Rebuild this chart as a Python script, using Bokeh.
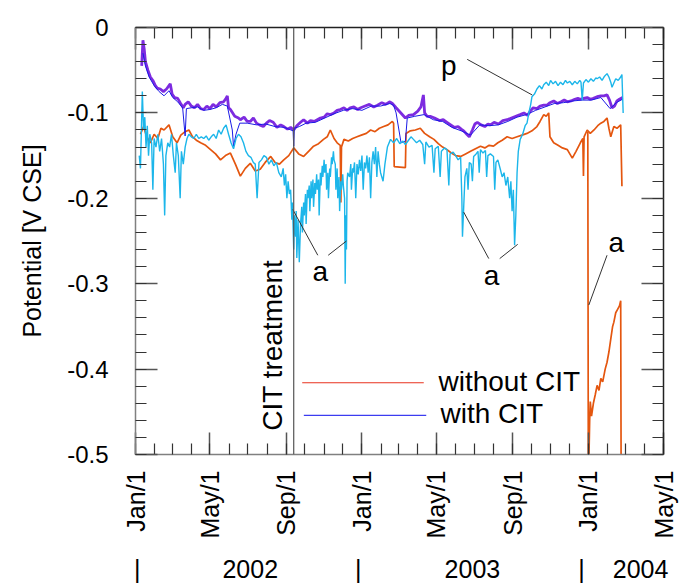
import math
import pandas as pd
from bokeh.plotting import figure
from bokeh.models import Range1d, LinearAxis, FixedTicker, Span
from bokeh.core.properties import value
from bokeh.embed import file_html
from bokeh.resources import INLINE

# ---------------- data: (days since 2002-01-01, potential in V CSE) ----------------
START = pd.Timestamp("2002-01-01")
END = pd.Timestamp("2004-05-01")
CIT_DATE = pd.Timestamp("2002-09-13")

with_cit_pts = [
    (10, -0.045), (12, -0.015), (14, -0.025), (16, -0.040), (20, -0.050), (24, -0.058), (28, -0.062), (32, -0.068),
    (35, -0.071), (40, -0.072), (45, -0.075), (50, -0.072), (54, -0.068), (56, -0.066), (59, -0.078), (63, -0.082),
    (68, -0.083), (72, -0.088), (77, -0.094), (80, -0.090), (85, -0.087), (90, -0.092), (95, -0.094), (100, -0.090),
    (105, -0.095), (110, -0.096), (115, -0.092), (120, -0.095), (125, -0.090), (130, -0.093), (136, -0.088),
    (142, -0.087), (146, -0.083), (148, -0.080), (150, -0.094), (153, -0.096), (160, -0.104), (166, -0.106),
    (169, -0.108), (175, -0.105), (180, -0.110), (185, -0.110), (190, -0.106), (195, -0.112), (200, -0.114),
    (206, -0.116), (211, -0.112), (216, -0.109), (222, -0.111), (228, -0.117), (234, -0.114), (239, -0.116),
    (245, -0.119), (250, -0.117), (255, -0.120), (260, -0.115), (266, -0.111), (271, -0.108), (277, -0.112),
    (282, -0.109), (288, -0.110), (293, -0.108), (298, -0.106), (304, -0.105), (309, -0.101), (314, -0.102),
    (320, -0.100), (325, -0.097), (330, -0.096), (336, -0.094), (341, -0.097), (346, -0.094), (352, -0.093),
    (358, -0.096), (363, -0.094), (370, -0.092), (377, -0.090), (384, -0.093), (390, -0.091), (397, -0.088),
    (403, -0.090), (410, -0.087), (414, -0.089), (420, -0.094), (435, -0.106), (440, -0.103), (448, -0.102),
    (455, -0.098), (460, -0.093), (464, -0.079), (466, -0.100), (470, -0.104), (475, -0.104), (482, -0.106),
    (490, -0.109), (496, -0.108), (502, -0.111), (508, -0.114), (514, -0.117), (520, -0.116), (525, -0.119),
    (529, -0.121), (534, -0.125), (538, -0.128), (543, -0.120), (547, -0.113), (551, -0.111), (557, -0.114),
    (563, -0.116), (568, -0.113), (572, -0.114), (578, -0.111), (585, -0.113), (592, -0.109), (599, -0.108),
    (606, -0.106), (613, -0.104), (620, -0.102), (626, -0.100), (632, -0.103), (636, -0.098), (641, -0.094),
    (647, -0.095), (652, -0.092), (658, -0.091), (663, -0.091), (668, -0.088), (674, -0.086), (680, -0.089),
    (686, -0.087), (691, -0.085), (696, -0.087), (702, -0.086), (708, -0.084), (713, -0.083), (717, -0.084),
    (722, -0.083), (728, -0.082), (733, -0.084), (738, -0.083), (744, -0.081), (750, -0.080), (755, -0.080),
    (760, -0.079), (764, -0.085), (768, -0.094), (772, -0.092), (776, -0.086), (780, -0.084), (785, -0.082),
]

with_cit2_pts = [
    (12, -0.030), (16, -0.045), (22, -0.058), (30, -0.068), (38, -0.075), (46, -0.080), (54, -0.074), (60, -0.082),
    (68, -0.087), (76, -0.094), (80, -0.127), (82, -0.095), (90, -0.094), (100, -0.093), (110, -0.097),
    (120, -0.096), (130, -0.094), (140, -0.090), (148, -0.092), (156, -0.120), (158, -0.139), (162, -0.125),
    (168, -0.112), (180, -0.112), (195, -0.114), (210, -0.113), (225, -0.116), (240, -0.117), (254, -0.121),
    (255, -0.139), (256, -0.118), (264, -0.116), (275, -0.112), (290, -0.111), (305, -0.106), (320, -0.101),
    (335, -0.097), (350, -0.095), (365, -0.097), (380, -0.092), (395, -0.092), (410, -0.089), (416, -0.091),
    (420, -0.100), (428, -0.135), (435, -0.133), (438, -0.106), (450, -0.104), (465, -0.102), (480, -0.108),
    (495, -0.110), (510, -0.117), (525, -0.121), (540, -0.126), (555, -0.114), (570, -0.115), (585, -0.114),
    (600, -0.110), (615, -0.105), (630, -0.102), (645, -0.097), (660, -0.093), (675, -0.089), (690, -0.088),
    (705, -0.086), (720, -0.085), (735, -0.085), (750, -0.082), (765, -0.095), (775, -0.088), (785, -0.084),
]

without_cit_pts = [
    (8, -0.125), (13, -0.116), (18, -0.128), (24, -0.135), (30, -0.125), (36, -0.130), (41, -0.118), (46, -0.120),
    (54, -0.114), (60, -0.128), (67, -0.135), (73, -0.126), (80, -0.122), (86, -0.120), (92, -0.128), (98, -0.132),
    (105, -0.135), (113, -0.138), (121, -0.143), (129, -0.148), (137, -0.155), (145, -0.150), (153, -0.147),
    (161, -0.160), (169, -0.174), (177, -0.165), (185, -0.159), (193, -0.168), (201, -0.166), (209, -0.158),
    (218, -0.151), (225, -0.158), (232, -0.160), (239, -0.155), (247, -0.150), (255, -0.141), (263, -0.148),
    (271, -0.151), (279, -0.145), (287, -0.139), (295, -0.136), (303, -0.131), (309, -0.128), (314, -0.120),
    (320, -0.130), (325, -0.135), (330, -0.138), (331, -0.205), (332, -0.140), (336, -0.131), (343, -0.133),
    (350, -0.130), (357, -0.128), (364, -0.126), (372, -0.124), (379, -0.120), (386, -0.122), (393, -0.118),
    (400, -0.116), (407, -0.114), (414, -0.110), (416, -0.112), (417, -0.163), (435, -0.164), (436, -0.124),
    (443, -0.121), (451, -0.120), (459, -0.118), (466, -0.124), (474, -0.128), (481, -0.131), (488, -0.136),
    (495, -0.140), (502, -0.143), (509, -0.147), (516, -0.150), (524, -0.151), (532, -0.148), (540, -0.145),
    (548, -0.142), (556, -0.139), (563, -0.141), (570, -0.138), (577, -0.139), (584, -0.135), (591, -0.132),
    (599, -0.128), (607, -0.130), (615, -0.128), (623, -0.126), (631, -0.124), (639, -0.121), (647, -0.116),
    (652, -0.110), (658, -0.102), (662, -0.104), (666, -0.100), (668, -0.128), (674, -0.135), (681, -0.138),
    (688, -0.141), (696, -0.143), (700, -0.148), (704, -0.153), (710, -0.145), (717, -0.135), (721, -0.130),
    (722, -0.174), (723, -0.128), (728, -0.120), (733, -0.124), (739, -0.120), (745, -0.115), (750, -0.112),
    (755, -0.110), (760, -0.106), (763, -0.118), (766, -0.128), (771, -0.116), (776, -0.118), (782, -0.114),
    (784, -0.186),
]

without_cit2_pts = [
    (729, -0.122), (730, -0.600), (731, -0.497), (732, -0.460), (733, -0.438), (735, -0.455), (738, -0.440),
    (741, -0.430), (744, -0.419), (747, -0.425), (750, -0.411), (753, -0.415), (757, -0.400), (760, -0.392),
    (763, -0.380), (766, -0.365), (769, -0.350), (771, -0.345), (774, -0.334), (777, -0.330), (780, -0.326),
    (782, -0.320), (783, -0.600),
]

without_cit3_pts = [
    (6, -0.150), (8, -0.165), (11, -0.075), (13, -0.120), (15, -0.105), (17, -0.140), (19, -0.115), (21, -0.150),
    (23, -0.125), (26, -0.135), (28, -0.190), (30, -0.130), (33, -0.140), (36, -0.125), (39, -0.145), (42, -0.130),
    (45, -0.160), (47, -0.220), (49, -0.150), (52, -0.135), (55, -0.140), (58, -0.125), (61, -0.150), (64, -0.170),
    (66, -0.135), (69, -0.150), (72, -0.200), (74, -0.145), (77, -0.160), (80, -0.140), (83, -0.130), (86, -0.125),
    (90, -0.128), (94, -0.130), (98, -0.125), (102, -0.130), (106, -0.128), (110, -0.130), (114, -0.127),
    (118, -0.132), (122, -0.128), (126, -0.125), (130, -0.130), (134, -0.120), (138, -0.125), (142, -0.118),
    (146, -0.114), (150, -0.125), (154, -0.135), (158, -0.142), (162, -0.130), (166, -0.125), (170, -0.128),
    (174, -0.135), (178, -0.145), (182, -0.150), (186, -0.152), (190, -0.158), (193, -0.160), (196, -0.200),
    (199, -0.158), (203, -0.155), (207, -0.150), (211, -0.152), (215, -0.160), (219, -0.155), (223, -0.162),
    (227, -0.158), (231, -0.170), (235, -0.175), (238, -0.165), (240, -0.185), (242, -0.172), (244, -0.200),
    (246, -0.180), (248, -0.195), (250, -0.190), (252, -0.225), (253, -0.205), (255, -0.260), (256, -0.220),
    (258, -0.245), (259, -0.215), (260, -0.270), (262, -0.225), (264, -0.275), (266, -0.230), (268, -0.210),
    (269, -0.240), (271, -0.205), (272, -0.220), (274, -0.195), (275, -0.230), (277, -0.190), (278, -0.200),
    (280, -0.185), (281, -0.215), (283, -0.180), (284, -0.200), (286, -0.178), (287, -0.210), (289, -0.182),
    (290, -0.195), (292, -0.172), (293, -0.190), (295, -0.178), (296, -0.220), (298, -0.170), (299, -0.185),
    (301, -0.162), (302, -0.175), (304, -0.155), (305, -0.170), (307, -0.160), (308, -0.190), (310, -0.170),
    (311, -0.200), (313, -0.165), (314, -0.175), (316, -0.152), (317, -0.160), (319, -0.145), (320, -0.155),
    (322, -0.160), (323, -0.190), (325, -0.165), (326, -0.200), (328, -0.175), (329, -0.215), (331, -0.180),
    (332, -0.190), (334, -0.172), (335, -0.185), (337, -0.200), (338, -0.300), (339, -0.220), (340, -0.260),
    (341, -0.180), (342, -0.170), (345, -0.175), (347, -0.160), (348, -0.190), (350, -0.165), (351, -0.170),
    (353, -0.158), (355, -0.200), (357, -0.160), (359, -0.172), (361, -0.155), (363, -0.168), (365, -0.150),
    (367, -0.190), (369, -0.158), (371, -0.165), (373, -0.150), (375, -0.170), (377, -0.152), (379, -0.200),
    (381, -0.158), (383, -0.145), (385, -0.160), (387, -0.140), (389, -0.175), (391, -0.145), (393, -0.160),
    (395, -0.170), (399, -0.180), (402, -0.160), (406, -0.140), (411, -0.131), (416, -0.135), (421, -0.130),
    (426, -0.136), (431, -0.133), (435, -0.137), (440, -0.132), (444, -0.128), (448, -0.131), (453, -0.135),
    (458, -0.132), (463, -0.137), (466, -0.160), (468, -0.134), (473, -0.140), (478, -0.138), (481, -0.170),
    (483, -0.142), (488, -0.139), (491, -0.175), (493, -0.145), (498, -0.141), (502, -0.143), (505, -0.185),
    (507, -0.148), (512, -0.146), (516, -0.150), (520, -0.155), (524, -0.152), (526, -0.200), (527, -0.245),
    (529, -0.210), (531, -0.175), (534, -0.165), (536, -0.190), (538, -0.158), (541, -0.160), (543, -0.180),
    (545, -0.151), (549, -0.148), (552, -0.145), (554, -0.170), (556, -0.143), (560, -0.147), (564, -0.144),
    (566, -0.175), (568, -0.150), (572, -0.148), (577, -0.151), (579, -0.190), (581, -0.158), (584, -0.155),
    (588, -0.166), (591, -0.175), (594, -0.170), (597, -0.185), (600, -0.175), (603, -0.200), (605, -0.180),
    (607, -0.215), (609, -0.190), (611, -0.255), (613, -0.220), (615, -0.170), (617, -0.145), (620, -0.131),
    (624, -0.125), (628, -0.115), (631, -0.112), (634, -0.100), (637, -0.090), (639, -0.081), (643, -0.078),
    (647, -0.072), (651, -0.068), (655, -0.072), (658, -0.067), (662, -0.064), (666, -0.068), (669, -0.062),
    (673, -0.066), (677, -0.063), (681, -0.068), (685, -0.064), (689, -0.067), (693, -0.062), (696, -0.065),
    (700, -0.063), (704, -0.067), (708, -0.063), (712, -0.066), (716, -0.062), (718, -0.064), (720, -0.085),
    (722, -0.065), (726, -0.061), (730, -0.064), (734, -0.060), (738, -0.063), (742, -0.059), (744, -0.060),
    (748, -0.058), (752, -0.062), (756, -0.057), (760, -0.054), (763, -0.058), (766, -0.064), (768, -0.070),
    (771, -0.065), (774, -0.060), (778, -0.062), (782, -0.058), (784, -0.055), (786, -0.100),
]

# tick labels
month_label_names = {1: "Jan/1", 5: "May/1", 9: "Sep/1"}
y_major = [0, -0.1, -0.2, -0.3, -0.4, -0.5]
y_labels = ["0", "-0.1", "-0.2", "-0.3", "-0.4", "-0.5"]
year_row_labels = ["|", "2002", "|", "2003", "|", "2004"]
year_row_days = [3, 185, 359, 543, 719, 814]


def split(pts):
    return [d for d, _ in pts], [v for _, v in pts]


# ---------------- figure ----------------
FONT = "Liberation Sans"
x_end = (END - START).days
cit_day = (CIT_DATE - START).days

p = figure(width=682, height=585, output_backend="svg", toolbar_location=None,
           x_range=Range1d(0, x_end), y_range=Range1d(-0.5, 0),
           x_axis_type=None, y_axis_type=None,
           min_border_left=135, min_border_right=19, min_border_top=27, min_border_bottom=129)
p.grid.visible = False
p.outline_line_color = None
p.background_fill_color = "white"
p.border_fill_color = "white"

months = pd.date_range(START, END, freq="MS")
month_days = [int((m - START).days) for m in months]
major_days = [d for m, d in zip(months, month_days) if m.month in month_label_names]
x_overrides = {d: month_label_names[m.month] for m, d in zip(months, month_days) if m.month in month_label_names}
y_minor = [round(-0.02 * i, 2) for i in range(26)]


def style(ax, line_color):
    ax.major_tick_in = 22
    ax.major_tick_out = 0
    ax.minor_tick_in = 11
    ax.minor_tick_out = 0
    ax.axis_line_color = line_color
    ax.axis_line_width = 1.5
    ax.major_tick_line_color = "#555555"
    ax.minor_tick_line_color = "#333333"
    ax.major_tick_line_width = 1.5
    ax.minor_tick_line_width = 1.2
    ax.major_label_text_font = FONT
    ax.major_label_text_color = "black"


bottom = LinearAxis(ticker=FixedTicker(ticks=major_days, minor_ticks=month_days),
                    major_label_overrides=x_overrides, major_label_orientation=math.pi / 2,
                    major_label_text_font_size="25px", major_label_standoff=16)
style(bottom, "#808080")
p.add_layout(bottom, "below")

years = LinearAxis(ticker=FixedTicker(ticks=year_row_days, minor_ticks=[]),
                   major_label_overrides={d: t for d, t in zip(year_row_days, year_row_labels)},
                   axis_line_color=None, major_tick_line_color=None, minor_tick_line_color=None,
                   major_tick_in=0, major_tick_out=0, minor_tick_in=0, minor_tick_out=0,
                   major_label_text_font=FONT, major_label_text_font_size="25px",
                   major_label_text_color="black", major_label_standoff=13)
p.add_layout(years, "below")

left = LinearAxis(ticker=FixedTicker(ticks=y_major, minor_ticks=y_minor),
                  major_label_overrides={v: t for v, t in zip(y_major, y_labels)},
                  major_label_text_font_size="24px", major_label_standoff=27,
                  axis_label="Potential [V CSE]", axis_label_text_font=FONT,
                  axis_label_text_font_size="25px", axis_label_text_font_style="normal",
                  axis_label_text_color="black", axis_label_standoff=18)
style(left, "#808080")
p.add_layout(left, "left")

top = LinearAxis(ticker=FixedTicker(ticks=major_days, minor_ticks=month_days),
                 major_label_overrides={d: "" for d in major_days},
                 major_label_text_font_size="1px", major_label_standoff=0)
style(top, "#222222")
p.add_layout(top, "above")

right = LinearAxis(ticker=FixedTicker(ticks=y_major, minor_ticks=y_minor),
                   major_label_overrides={v: "" for v in y_major},
                   major_label_text_font_size="1px", major_label_standoff=0)
style(right, "#222222")
p.add_layout(right, "right")

# ---------------- series ----------------
ORANGE = "#E4560F"
CYAN = "#1CB6EA"
VIOLET = "#7D2BE0"
BLUE = "#1A1AE6"

x, y = split(without_cit_pts)
p.line(x, y, line_color=ORANGE, line_width=1.7)
x, y = split(with_cit_pts)
p.line(x, y, line_color=VIOLET, line_width=2.8)
x, y = split(with_cit2_pts)
p.line(x, y, line_color=BLUE, line_width=1.0)
x, y = split(without_cit3_pts)
p.line(x, y, line_color=CYAN, line_width=1.4)
x, y = split(without_cit2_pts)
p.line(x, y, line_color=ORANGE, line_width=1.7)

# CIT treatment marker
p.add_layout(Span(location=cit_day, dimension="height", line_color="#555555", line_width=1.2))
p.text(x=[221], y=[-0.372], text=["CIT treatment"], angle=math.pi / 2,
       text_align="center", text_baseline="middle", text_font=value(FONT),
       text_font_size="28px", text_color="black")

# annotation leaders
lead_x0 = [253.5, 310.6, 529, 587, 760, 534.6]
lead_y0 = [-0.2131, -0.2667, -0.2162, -0.2706, -0.2667, -0.0373]
lead_x1 = [293.8, 340, 569.4, 616, 730.6, 639.4]
lead_y1 = [-0.2667, -0.250, -0.2706, -0.2539, -0.325, -0.079]
p.segment(lead_x0, lead_y0, lead_x1, lead_y1, line_color="#333333", line_width=1)
p.text(x=[298, 574, 775, 505], y=[-0.2854, -0.290, -0.252, -0.045], text=["a", "a", "a", "p"],
       text_align="center", text_baseline="middle", text_font=value(FONT),
       text_font_size="28px", text_color="black")

# legend
p.segment([268.7, 271.3], [-0.416, -0.4542], [464.6, 468.6], [-0.416, -0.4542],
          line_color=["#E8321E", "#3C3CF0"], line_width=1.2)
p.text(x=[488.3, 491.5], y=[-0.415, -0.4525], text=["without CIT", "with CIT"],
       text_align="left", text_baseline="middle", text_font=value(FONT),
       text_font_size="28px", text_color="black")

open("out.html", "w").write(file_html(p, INLINE))
